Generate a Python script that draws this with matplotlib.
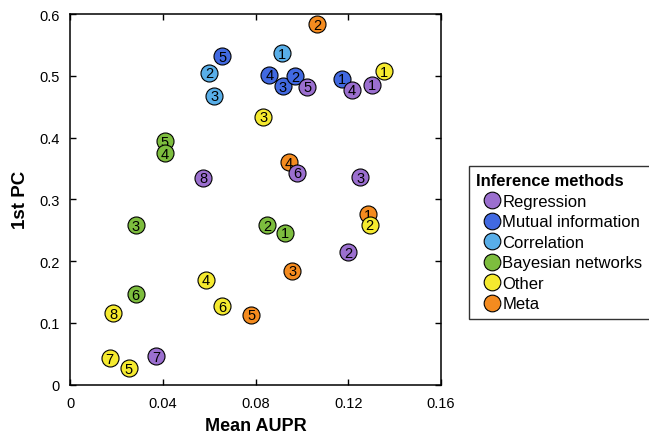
import matplotlib
matplotlib.use("Agg")
import matplotlib.pyplot as plt
from matplotlib.lines import Line2D

plt.rcParams['font.family'] = ['Liberation Sans', 'DejaVu Sans']

# Method groups (legend order) and their colours
groups = ["Regression", "Mutual information", "Correlation",
          "Bayesian networks", "Other", "Meta"]
colors = ["#9b6fcf", "#4169e1", "#58aee8", "#7dbd3e", "#f5ea2f", "#f48b1f"]

# Mean AUPR (x) and 1st PC (y) for each numbered method in every group
regression_x = [0.1302, 0.1199, 0.1251, 0.1216, 0.1022, 0.0978, 0.0369, 0.0572]
regression_y = [0.4857, 0.2148, 0.3363, 0.4776, 0.4825, 0.3431, 0.0465, 0.3350]

mutual_x = [0.1174, 0.0971, 0.0917, 0.0859, 0.0656]
mutual_y = [0.4955, 0.4998, 0.4836, 0.5019, 0.5316]

correlation_x = [0.0912, 0.0600, 0.0621]
correlation_y = [0.5365, 0.5052, 0.4679]

bayesian_x = [0.0927, 0.0848, 0.0282, 0.0408, 0.0408, 0.0282]
bayesian_y = [0.2459, 0.2577, 0.2577, 0.3750, 0.3938, 0.1465]

other_x = [0.1354, 0.1292, 0.0833, 0.0585, 0.0251, 0.0656, 0.0169, 0.0185]
other_y = [0.5073, 0.2588, 0.4339, 0.1702, 0.0266, 0.1271, 0.0433, 0.1162]

meta_x = [0.1284, 0.1066, 0.0957, 0.0943, 0.0780]
meta_y = [0.2755, 0.5835, 0.1848, 0.3598, 0.1135]

series = {
    "Regression": (regression_x, regression_y),
    "Mutual information": (mutual_x, mutual_y),
    "Correlation": (correlation_x, correlation_y),
    "Bayesian networks": (bayesian_x, bayesian_y),
    "Other": (other_x, other_y),
    "Meta": (meta_x, meta_y),
}

x_ticks = [0, 0.04, 0.08, 0.12, 0.16]
x_tick_labels = ["0", "0.04", "0.08", "0.12", "0.16"]
y_ticks = [0, 0.1, 0.2, 0.3, 0.4, 0.5, 0.6]
y_tick_labels = ["0", "0.1", "0.2", "0.3", "0.4", "0.5", "0.6"]

fig = plt.figure(figsize=(6.49, 4.35), dpi=100)
ax = fig.add_axes([0.1086, 0.1133, 0.5709, 0.8522])

# Draw groups bottom-up so later groups sit on top where circles overlap
draw_order = ["Meta", "Other", "Bayesian networks", "Correlation",
              "Mutual information", "Regression"]
z = 3
for name in draw_order:
    col = colors[groups.index(name)]
    xs, ys = series[name]
    for i in reversed(range(len(xs))):
        ax.scatter(xs[i], ys[i], s=150, color=col, edgecolor="black",
                   linewidth=0.8, zorder=z)
        ax.text(xs[i], ys[i] - 0.001, str(i + 1), ha="center", va="center",
                fontsize=10.5, color="black", zorder=z + 0.5)
        z += 1

ax.set_xlim(0, 0.16)
ax.set_ylim(0, 0.6)
ax.set_xticks(x_ticks)
ax.set_xticklabels(x_tick_labels)
ax.set_yticks(y_ticks)
ax.set_yticklabels(y_tick_labels)
ax.tick_params(direction="in", length=4, width=1, labelsize=10.5,
               top=True, right=True, pad=8)
for sp in ax.spines.values():
    sp.set_linewidth(1.1)

ax.set_xlabel("Mean AUPR", fontsize=13, fontweight="bold", labelpad=5)
ax.set_ylabel("1st PC", fontsize=13.5, fontweight="bold", labelpad=7)

handles = [Line2D([], [], marker="o", linestyle="none", markersize=12,
                  markerfacecolor=c, markeredgecolor="black",
                  markeredgewidth=0.8) for c in colors]
leg = fig.legend(handles, groups, title="Inference methods",
                 loc="upper left", bbox_to_anchor=(469 / 649, 1 - 167 / 435),
                 frameon=True, fancybox=False, edgecolor="black",
                 fontsize=12, title_fontproperties={"weight": "bold", "size": 12},
                 handletextpad=-0.25, handlelength=1.8, labelspacing=0.33,
                 borderpad=0.45, borderaxespad=0)
leg.get_frame().set_linewidth(1.0)
leg._legend_box.align = "left"

fig.savefig("out.png", dpi=100)
